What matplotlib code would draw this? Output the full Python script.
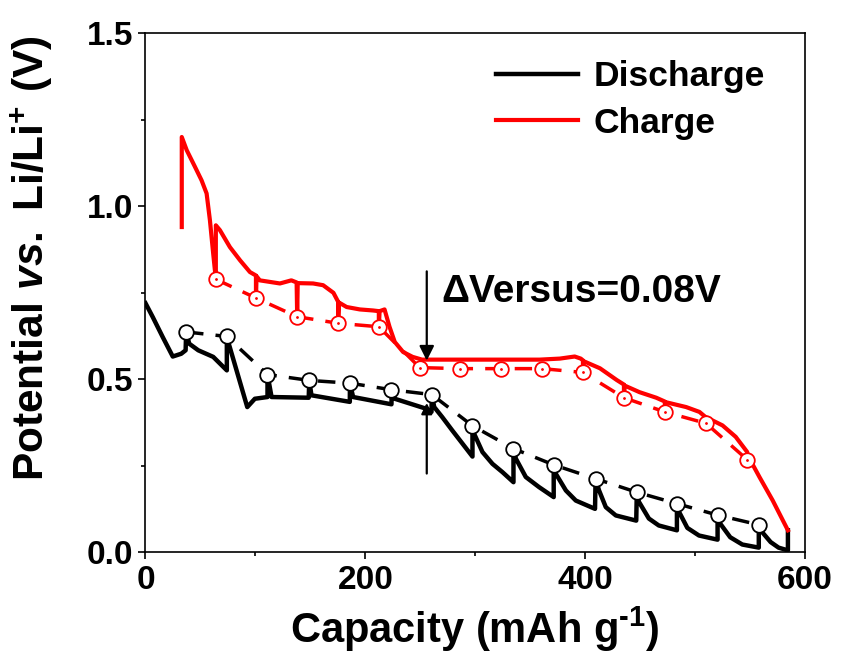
import matplotlib
matplotlib.use("Agg")
import matplotlib.pyplot as plt

# GITT curves
dis_x = [0, 6.6, 15.7, 24.8, 32.5, 36.5, 37, 39.8, 48, 61.6, 74, 74, 75.3, 92.6, 99.5, 111,
         111, 114.7, 148.5, 149, 151, 185.9, 186, 188.9, 223.8, 224, 226.8, 255.6, 260.2,
         260.5, 262.7, 270, 279, 288.5, 297.5, 297.5, 299, 306.6, 315.7, 324.8, 334.8,
         334.8, 337, 346, 358, 371.4, 371.4, 373.4, 382.5, 391.5, 409, 409.5, 412.7, 418.8,
         427.9, 446.5, 447, 449, 458, 467, 483.5, 483.5, 485.5, 493, 503.6, 520.5, 520.5,
         523, 532, 543, 558, 558, 561, 568.8, 576, 584.5, 584.5]
dis_v = [0.72, 0.68, 0.622, 0.566, 0.574, 0.584, 0.637, 0.603, 0.584, 0.565, 0.526, 0.624,
         0.608, 0.42, 0.444, 0.449, 0.514, 0.449, 0.447, 0.497, 0.454, 0.435, 0.489, 0.449,
         0.428, 0.470, 0.444, 0.415, 0.406, 0.456, 0.42, 0.391, 0.353, 0.314, 0.277, 0.366,
         0.343, 0.29, 0.256, 0.232, 0.203, 0.300, 0.271, 0.218, 0.189, 0.160, 0.253, 0.227,
         0.179, 0.150, 0.126, 0.213, 0.179, 0.131, 0.107, 0.092, 0.174, 0.146, 0.098, 0.078,
         0.064, 0.141, 0.117, 0.071, 0.049, 0.037, 0.108, 0.083, 0.044, 0.023, 0.014, 0.080,
         0.059, 0.030, 0.014, 0.006, 0.064]

chg_x = [33, 33, 37.5, 45, 51, 55.6, 58.6, 61.6, 64, 64, 67.7, 76.8, 86, 95, 100.5, 100.5,
         101, 104, 122.3, 132.7, 137.5, 138, 138.5, 152.5, 161.6, 171, 175.3, 175.3, 176,
         183, 195, 207, 212.3, 212.3, 213, 217.5, 222, 226.8, 234.4, 243, 251.6, 270, 320,
         358.6, 377, 390.5, 396, 398, 398, 399, 413.5, 428.8, 435.3, 435.3, 436, 449.5,
         464.7, 472.5, 472.5, 473.5, 491.9, 504, 510, 510, 511, 525, 537, 547.5, 547.5, 548,
         558.6, 570.7, 584.5]
chg_v = [0.94, 1.20, 1.162, 1.114, 1.075, 1.037, 0.96, 0.863, 0.789, 0.945, 0.931, 0.882,
         0.844, 0.81, 0.80, 0.735, 0.798, 0.786, 0.777, 0.786, 0.780, 0.682, 0.778, 0.777,
         0.772, 0.75, 0.724, 0.663, 0.722, 0.709, 0.702, 0.699, 0.697, 0.652, 0.697, 0.702,
         0.652, 0.608, 0.579, 0.565, 0.557, 0.557, 0.557, 0.557, 0.560, 0.566, 0.560, 0.555,
         0.520, 0.552, 0.532, 0.498, 0.485, 0.447, 0.482, 0.463, 0.447, 0.436, 0.406, 0.434,
         0.42, 0.406, 0.39, 0.373, 0.389, 0.367, 0.334, 0.29, 0.268, 0.28, 0.218, 0.150, 0.064]

# relaxed (open circuit) points
dis_ocv_x = [37, 73.8, 111, 149, 186, 223.8, 260.5, 297.5, 334.8, 371.4, 409.5, 447, 483.5,
             520.5, 558]
dis_ocv_v = [0.637, 0.624, 0.514, 0.497, 0.489, 0.470, 0.456, 0.366, 0.300, 0.253, 0.213,
             0.174, 0.141, 0.108, 0.080]
chg_ocv_x = [64, 100.5, 138, 175.3, 212.3, 249.5, 286.5, 323.8, 361, 398, 435.3, 472.5, 510,
             547.5]
chg_ocv_v = [0.789, 0.735, 0.681, 0.662, 0.652, 0.534, 0.531, 0.531, 0.531, 0.520, 0.447,
             0.406, 0.373, 0.268]

plt.rcParams['font.family'] = ['Liberation Sans', 'DejaVu Sans']
plt.rcParams['font.weight'] = 'bold'
plt.rcParams['mathtext.fontset'] = 'custom'
plt.rcParams['mathtext.rm'] = 'Liberation Sans:bold'
plt.rcParams['mathtext.bf'] = 'Liberation Sans:bold'
plt.rcParams['mathtext.it'] = 'Liberation Sans:italic:bold'

fig = plt.figure(figsize=(8.42, 6.63), dpi=100)
ax = fig.add_axes([0.1728, 0.1667, 0.956 - 0.1728, 0.950 - 0.1667])

ax.plot(dis_ocv_x, dis_ocv_v, color='black', lw=2.5, dashes=(5, 3.5), zorder=2)
ax.plot(chg_ocv_x, chg_ocv_v, color='red', lw=2.5, dashes=(5, 3.5), zorder=2)
ax.plot(dis_x, dis_v, color='black', lw=3.2, label='Discharge', zorder=3)
ax.plot(chg_x, chg_v, color='red', lw=3.0, label='Charge', zorder=3)
ax.plot(dis_ocv_x, dis_ocv_v, ls='none', marker='o', ms=10.5, mfc='white', mec='black',
        mew=1.3, zorder=4)
ax.plot(chg_ocv_x, chg_ocv_v, ls='none', marker='o', ms=10.5, mfc='white', mec='red',
        mew=1.3, zorder=4)
ax.plot(chg_ocv_x, chg_ocv_v, ls='none', marker='.', ms=2, color='red', zorder=5)

# the two arrows marking the gap
ax.annotate('', xy=(255.9, 0.546), xytext=(255.9, 0.82),
            arrowprops=dict(arrowstyle='-|>', color='black', lw=1.6, mutation_scale=22),
            zorder=6)
ax.annotate('', xy=(255.9, 0.44), xytext=(255.9, 0.22),
            arrowprops=dict(arrowstyle='-|>', color='black', lw=1.6, mutation_scale=16),
            zorder=6)
ax.text(269.5, 0.724, '\u0394Versus=0.08V', fontsize=28, fontweight='bold',
        ha='left', va='baseline')

ax.set_xlim(0, 600)
ax.set_ylim(0, 1.5)
ax.set_xticks([0, 200, 400, 600])
ax.set_xticks([100, 300, 500], minor=True)
ax.set_yticks([0.0, 0.5, 1.0, 1.5])
ax.set_yticks([0.25, 0.75, 1.25], minor=True)
ax.set_yticklabels(['0.0', '0.5', '1.0', '1.5'])
ax.tick_params(which='major', direction='out', length=5, width=1.2, labelsize=24, pad=4)
ax.tick_params(which='minor', direction='out', length=3, width=1.2)
for s in ax.spines.values():
    s.set_linewidth(1.2)

ax.set_xlabel('Capacity (mAh g$^{\\text{-}1}$)', fontsize=30, fontweight='bold', labelpad=6)
ax.set_ylabel('$\\mathrm{Potential}\\ \\mathit{vs.}\\ \\mathrm{Li/Li}^{+}\\ \\mathrm{(V)}$',
              fontsize=30.5)
ax.yaxis.set_label_coords(-0.137, 0.567)

ax.legend(loc='upper left', bbox_to_anchor=(0.505, 0.982), frameon=False, fontsize=25.5,
          handlelength=2.3, handletextpad=0.45, borderpad=0, labelspacing=0.38)

fig.savefig('out.png', dpi=100)
